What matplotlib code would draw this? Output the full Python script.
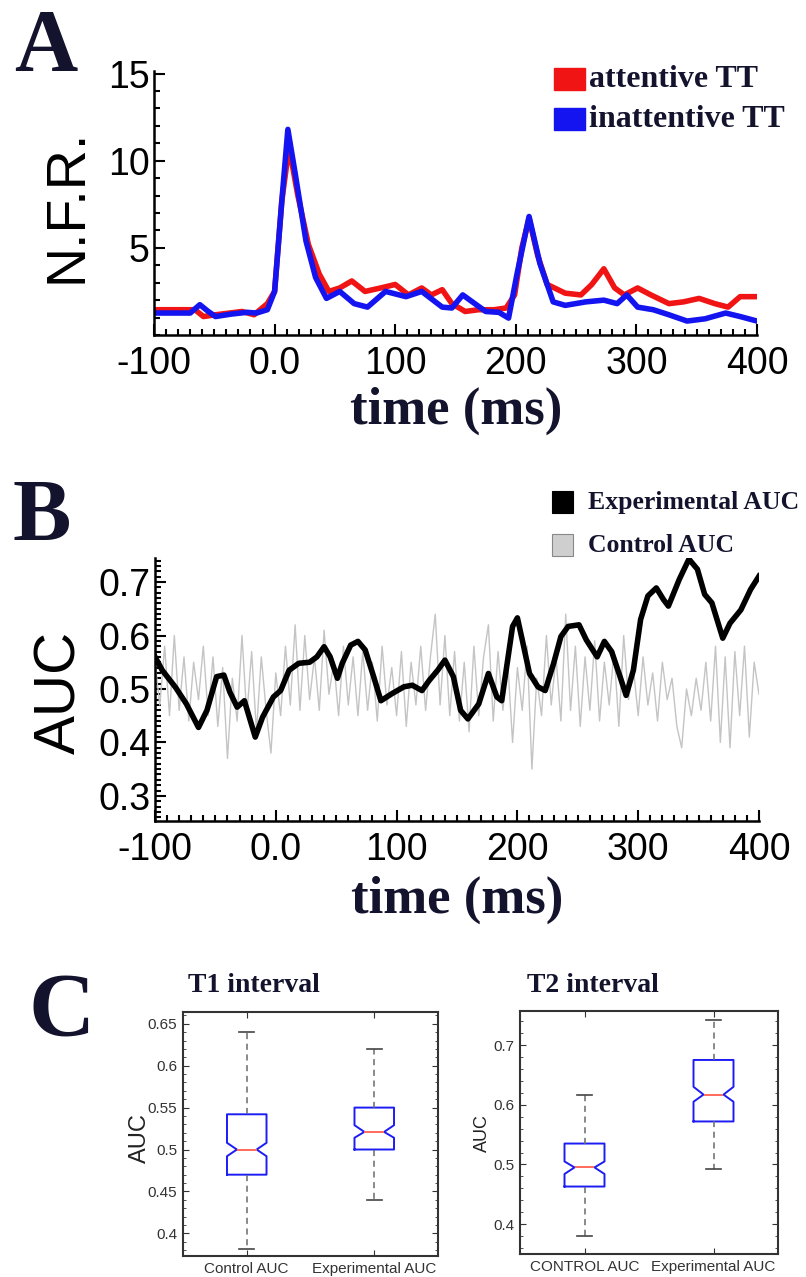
import matplotlib.pyplot as plt
import numpy as np
from matplotlib.patches import Rectangle
from matplotlib.ticker import MultipleLocator

plt.rcParams['font.family'] = ['Liberation Sans', 'DejaVu Sans']

# ---- panel A : normalized firing rate (N.F.R.)
t_att = [-100, -66, -59, -49, -27, -17, -6, 0, 6, 12, 19, 28, 37, 45, 54, 64, 75, 88, 100, 111,
         122, 130, 139, 147, 158, 169, 182, 192, 199, 205, 211, 218, 226, 241, 254, 263, 273, 282,
         290, 301, 312, 327, 339, 352, 365, 376, 386, 400]
nfr_att = [1.45, 1.45, 1.06, 1.16, 1.35, 1.16, 1.8, 2.5, 7.7, 10.8, 8.1, 5.2, 3.5, 2.5, 2.7, 3.1,
           2.5, 2.7, 2.9, 2.3, 2.7, 2.3, 2.6, 1.8, 1.35, 1.45, 1.45, 1.55, 2.3, 5.0, 6.7, 4.6, 2.9,
           2.4, 2.3, 2.9, 3.8, 2.7, 2.3, 2.7, 2.3, 1.8, 1.9, 2.1, 1.8, 1.6, 2.2, 2.2]
t_inatt = [-100, -70, -62, -55, -49, -36, -23, -15, -6, 0, 6, 11, 17, 26, 34, 43, 54, 66, 77, 92,
           109, 122, 139, 147, 156, 164, 175, 186, 194, 201, 211, 220, 231, 241, 258, 273, 284,
           292, 301, 314, 327, 342, 357, 374, 386, 400]
nfr_inatt = [1.26, 1.26, 1.74, 1.35, 1.06, 1.2, 1.3, 1.26, 1.45, 2.5, 7.7, 11.8, 9.3, 5.4, 3.3,
             2.1, 2.5, 1.8, 1.6, 2.5, 2.2, 2.5, 1.6, 1.55, 2.3, 1.9, 1.35, 1.3, 0.97, 3.5, 6.8,
             4.1, 1.9, 1.7, 1.9, 2.0, 1.8, 2.3, 1.6, 1.45, 1.16, 0.8, 0.93, 1.26, 1.06, 0.8]

# ---- panel B : AUC over time
t_exp = [-100, -94, -83, -74, -64, -57, -49, -43, -38, -32, -26, -17, -11, -2, 4, 11, 19, 28, 34,
         40, 45, 51, 55, 62, 68, 74, 81, 87, 96, 106, 113, 121, 127, 134, 140, 147, 153, 159, 168,
         176, 183, 187, 196, 200, 204, 210, 217, 223, 230, 236, 242, 251, 257, 266, 272, 278, 285,
         290, 296, 302, 308, 315, 321, 325, 334, 342, 349, 355, 361, 370, 376, 385, 393, 400]
auc_exp = [0.56, 0.535, 0.503, 0.472, 0.428, 0.46, 0.523, 0.526, 0.494, 0.466, 0.478, 0.41, 0.447,
           0.485, 0.497, 0.535, 0.548, 0.55, 0.56, 0.579, 0.56, 0.52, 0.548, 0.582, 0.589, 0.573,
           0.523, 0.478, 0.491, 0.504, 0.507, 0.497, 0.516, 0.535, 0.554, 0.523, 0.46, 0.444,
           0.472, 0.529, 0.485, 0.478, 0.617, 0.633, 0.592, 0.529, 0.504, 0.497, 0.548, 0.598,
           0.617, 0.62, 0.592, 0.56, 0.589, 0.57, 0.523, 0.488, 0.535, 0.63, 0.674, 0.689, 0.667,
           0.655, 0.705, 0.743, 0.724, 0.677, 0.661, 0.595, 0.623, 0.648, 0.686, 0.711]
# control AUC, read every ~4 ms from -100 to 400
auc_ctrl = [0.55, 0.47, 0.58, 0.45, 0.60, 0.46, 0.56, 0.44, 0.55, 0.48, 0.58, 0.45, 0.56, 0.43,
            0.54, 0.37, 0.52, 0.44, 0.60, 0.45, 0.57, 0.42, 0.56, 0.46, 0.38, 0.53, 0.45, 0.58,
            0.47, 0.62, 0.46, 0.60, 0.48, 0.56, 0.46, 0.61, 0.49, 0.55, 0.45, 0.58, 0.47, 0.56,
            0.45, 0.57, 0.46, 0.55, 0.44, 0.58, 0.47, 0.54, 0.45, 0.57, 0.43, 0.55, 0.47, 0.58,
            0.46, 0.56, 0.64, 0.47, 0.60, 0.45, 0.57, 0.44, 0.55, 0.42, 0.58, 0.45, 0.56, 0.62,
            0.44, 0.57, 0.46, 0.55, 0.40, 0.54, 0.46, 0.58, 0.35, 0.52, 0.45, 0.60, 0.47, 0.56,
            0.44, 0.64, 0.46, 0.58, 0.43, 0.56, 0.46, 0.59, 0.44, 0.55, 0.47, 0.57, 0.43, 0.60,
            0.48, 0.54, 0.45, 0.56, 0.47, 0.53, 0.44, 0.55, 0.48, 0.52, 0.43, 0.39, 0.50, 0.45,
            0.52, 0.46, 0.55, 0.44, 0.58, 0.40, 0.56, 0.39, 0.57, 0.45, 0.58, 0.41, 0.55, 0.49]

# ---- panel C : boxplots (control, experimental)
t1_labels = ['Control AUC', 'Experimental AUC']
t1_whislo = [0.381, 0.44]
t1_q1 = [0.47, 0.50]
t1_med = [0.50, 0.521]
t1_q3 = [0.542, 0.55]
t1_whishi = [0.64, 0.62]
t1_cilo = [0.492, 0.514]
t1_cihi = [0.508, 0.529]

t2_labels = ['CONTROL AUC', 'Experimental AUC']
t2_whislo = [0.38, 0.492]
t2_q1 = [0.463, 0.572]
t2_med = [0.495, 0.617]
t2_q3 = [0.535, 0.675]
t2_whishi = [0.617, 0.742]
t2_cilo = [0.484, 0.605]
t2_cihi = [0.505, 0.63]

W, H = 806, 1277
navy = '#13132d'
serif = ['Liberation Serif', 'DejaVu Serif']
narrow = ['Liberation Sans Narrow', 'Liberation Sans', 'DejaVu Sans']


def fx(x):
    return x / W


def fy(y):
    return 1 - y / H


def box_ax(l, t, r, b):
    return fig.add_axes([fx(l), fy(b), (r - l) / W, (b - t) / H])


fig = plt.figure(figsize=(W / 100, H / 100), dpi=100)

# ================= A
axA = box_ax(154, 71, 757, 335)
axA.plot(t_att, nfr_att, color='#f01414', lw=4, solid_joinstyle='round')
axA.plot(t_inatt, nfr_inatt, color='#1414f0', lw=4, solid_joinstyle='round')
axA.set_xlim(-100, 400)
axA.set_ylim(0, 15.15)
axA.set_yticks([5, 10, 15])
axA.yaxis.set_minor_locator(MultipleLocator(1))

# ================= B
axB = box_ax(155, 558, 759, 821)
axB.plot(np.linspace(-100, 400, len(auc_ctrl)), auc_ctrl, color='#c4c4c4', lw=1.0)
axB.plot(t_exp, auc_exp, color='black', lw=4, solid_joinstyle='round')
axB.set_xlim(-100, 400)
axB.set_ylim(0.253, 0.745)
axB.set_yticks([0.3, 0.4, 0.5, 0.6, 0.7])
axB.set_yticklabels(['0.3', '0.4', '0.5', '0.6', '0.7'])
axB.yaxis.set_minor_locator(MultipleLocator(0.01))

for ax in (axA, axB):
    ax.spines[['top', 'right']].set_visible(False)
    for s in ax.spines.values():
        s.set_linewidth(1.8)
    ax.set_xticks([-100, 0, 100, 200, 300, 400])
    ax.set_xticklabels(['-100', '0.0', '100', '200', '300', '400'])
    ax.xaxis.set_minor_locator(MultipleLocator(10))
    ax.tick_params(which='both', direction='in', width=1.5, labelsize=27)
    ax.tick_params(which='major', length=8)
    ax.tick_params(which='minor', length=4)
    ax.tick_params(axis='x', pad=8)
    ax.tick_params(axis='y', pad=3)

fig.text(fx(456), fy(411), 'time (ms)', family=serif, weight='bold', size=38,
         color=navy, ha='center', va='center')
fig.text(fx(457), fy(900), 'time (ms)', family=serif, weight='bold', size=38,
         color=navy, ha='center', va='center')
fig.text(fx(67), fy(206), 'N.F.R.', size=40, rotation=90, ha='center', va='center')
fig.text(fx(60), fy(692), 'AUC', size=42, rotation=90, ha='center', va='center')

# panel letters
fig.text(fx(46), fy(70), 'A', family=serif, weight='bold', size=63, color=navy,
         ha='center', va='baseline')
fig.text(fx(42), fy(540), 'B', family=serif, weight='bold', size=63, color=navy,
         ha='center', va='baseline')
fig.text(fx(62), fy(1036), 'C', family=serif, weight='bold', size=66, color=navy,
         ha='center', va='baseline')

# legends drawn as figure patches
legA = [('attentive TT', '#f01414', 79), ('inattentive TT', '#1414f0', 119)]
for txt, col, yc in legA:
    fig.add_artist(Rectangle((fx(554), fy(yc + 11)), 31 / W, 22 / H, transform=fig.transFigure,
                             facecolor=col, edgecolor=col))
    fig.text(fx(589), fy(yc + 8), txt, family=serif, weight='bold', size=23, color=navy,
             ha='left', va='baseline')
legB = [('Experimental AUC', 'black', 'black', 502), ('Control AUC', '#cfcfcf', '#888888', 545)]
for txt, fc, ec, yc in legB:
    fig.add_artist(Rectangle((fx(552), fy(yc + 11)), 21 / W, 22 / H, transform=fig.transFigure,
                             facecolor=fc, edgecolor=ec, lw=0.8))
    fig.text(fx(588), fy(yc + 7), txt, family=serif, weight='bold', size=18.5, color=navy,
             ha='left', va='baseline')


# ================= C
def stats(whislo, q1, med, q3, whishi, cilo, cihi):
    return [dict(whislo=whislo[i], q1=q1[i], med=med[i], q3=q3[i], whishi=whishi[i],
                 cilo=cilo[i], cihi=cihi[i], fliers=[]) for i in range(len(med))]


def draw_box(ax, st, labels, ylim, major, minor):
    ax.bxp(st, positions=[1, 2], widths=0.31, capwidths=0.12, shownotches=True,
           showfliers=False, manage_ticks=False,
           boxprops=dict(color='#1c1cf5', lw=1.4),
           medianprops=dict(color='#ff6a5a', lw=1.4),
           whiskerprops=dict(color='#6a6a6a', lw=1.1, ls=(0, (4, 3))),
           capprops=dict(color='#444444', lw=1.2))
    ax.set_xlim(0.5, 2.5)
    ax.set_ylim(*ylim)
    ax.set_xticks([1, 2])
    ax.set_xticklabels(labels, family=narrow)
    ax.yaxis.set_major_locator(MultipleLocator(major))
    ax.yaxis.set_minor_locator(MultipleLocator(minor))
    for s in ax.spines.values():
        s.set_linewidth(1.5)
        s.set_color('#333333')
    ax.tick_params(which='both', direction='in', top=True, right=True, colors='#333333',
                   labelsize=11)
    ax.tick_params(which='major', length=4)
    ax.tick_params(which='minor', length=2)
    ax.tick_params(axis='x', pad=4)
    ax.tick_params(axis='y', pad=4)


axC1 = box_ax(183, 1012, 438, 1256)
draw_box(axC1, stats(t1_whislo, t1_q1, t1_med, t1_q3, t1_whishi, t1_cilo, t1_cihi),
         t1_labels, (0.373, 0.664), 0.05, 0.01)
axC1.set_yticks([0.4, 0.45, 0.5, 0.55, 0.6, 0.65])
axC1.set_yticklabels(['0.4', '0.45', '0.5', '0.55', '0.6', '0.65'], family=narrow)

axC2 = box_ax(520, 1011, 778, 1254)
draw_box(axC2, stats(t2_whislo, t2_q1, t2_med, t2_q3, t2_whishi, t2_cilo, t2_cihi),
         t2_labels, (0.35, 0.757), 0.1, 0.02)
axC2.set_yticks([0.4, 0.5, 0.6, 0.7])
axC2.set_yticklabels(['0.4', '0.5', '0.6', '0.7'], family=narrow)

fig.text(fx(188), fy(985), 'T1 interval', family=serif, weight='bold', size=20, color=navy,
         ha='left', va='center')
fig.text(fx(527), fy(985), 'T2 interval', family=serif, weight='bold', size=20, color=navy,
         ha='left', va='center')
fig.text(fx(140), fy(1138), 'AUC', size=17, rotation=90, ha='center', va='center',
         color='#222222')
fig.text(fx(482), fy(1133), 'AUC', size=13, rotation=90, ha='center', va='center',
         color='#222222')

fig.savefig('out.png', dpi=100)
